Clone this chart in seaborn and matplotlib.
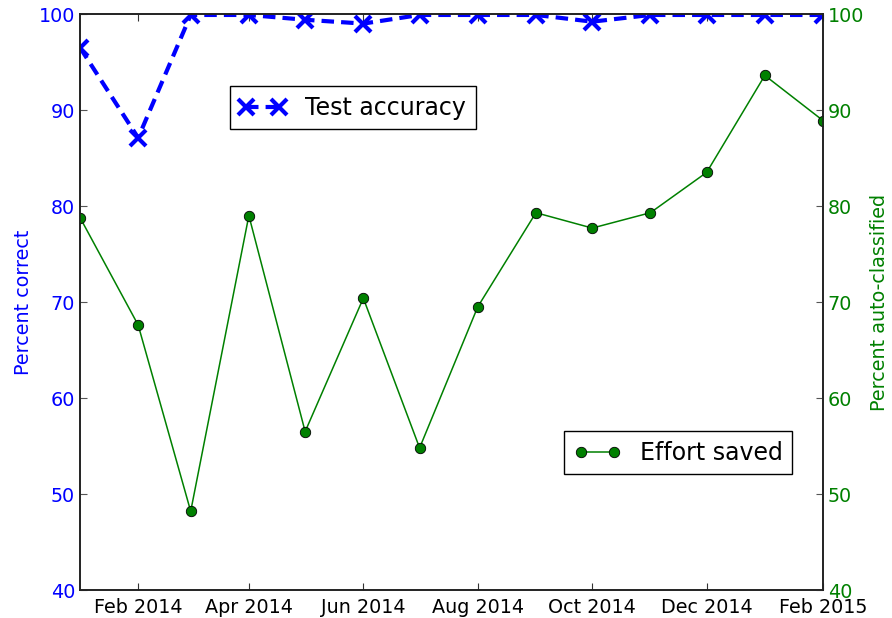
import pandas as pd
import seaborn as sns
import matplotlib
matplotlib.use("Agg")
import matplotlib.pyplot as plt
import matplotlib.dates as mdates

months = ["2014-01-01", "2014-02-01", "2014-03-01", "2014-04-01", "2014-05-01",
          "2014-06-01", "2014-07-01", "2014-08-01", "2014-09-01", "2014-10-01",
          "2014-11-01", "2014-12-01", "2015-01-01", "2015-02-01"]
test_accuracy = [96.5, 87.1, 99.9, 99.9, 99.4, 99.0, 99.9, 99.9, 99.9, 99.2,
                 99.9, 99.9, 99.9, 99.9]
effort_saved = [78.8, 67.6, 48.2, 79.0, 56.5, 70.4, 54.8, 69.5, 79.3, 77.7,
                79.3, 83.5, 93.6, 88.9]

df = pd.DataFrame({
    "month": pd.to_datetime(months),
    "accuracy": test_accuracy,
    "effort": effort_saved,
})

sns.set_theme(style="white")
plt.rcParams["font.family"] = ["DejaVu Sans"]
plt.rcParams["xtick.direction"] = "in"
plt.rcParams["ytick.direction"] = "in"
plt.rcParams["text.color"] = "black"
plt.rcParams["xtick.color"] = "black"
plt.rcParams["ytick.color"] = "black"

fig = plt.figure(figsize=(8.92, 6.18), dpi=100)
ax = fig.add_axes([80 / 892, 1 - 590 / 618, 743 / 892, 576 / 618])
ax2 = ax.twinx()

sns.lineplot(data=df, x="month", y="accuracy", ax=ax, color="blue",
             linestyle=(0, (3, 1.7)), linewidth=3, marker="x",
             markersize=12, markeredgewidth=3, markeredgecolor="blue",
             label="Test accuracy", legend=False)
sns.lineplot(data=df, x="month", y="effort", ax=ax2, color="green",
             linewidth=1.1, marker="o", markersize=7.5,
             markeredgecolor="black", markeredgewidth=0.6,
             label="Effort saved", legend=False)

fs = 13.8
ax.set_ylim(40, 100)
ax2.set_ylim(40, 100)
ax.set_xlim(pd.Timestamp("2014-01-01"), pd.Timestamp("2015-02-01"))
ax.xaxis.set_major_locator(mdates.MonthLocator(bymonth=[2, 4, 6, 8, 10, 12]))
ax.xaxis.set_major_formatter(mdates.DateFormatter("%b %Y"))

ax.set_xlabel("")
ax.set_ylabel("Percent correct", color="blue", fontsize=fs)
ax2.set_ylabel("Percent auto-classified", color="green", fontsize=fs)

ax.tick_params(axis="x", which="both", top=True, bottom=True, length=5,
               width=0.8, color="#333333", labelsize=fs, labelcolor="black",
               pad=6)
ax.tick_params(axis="y", length=5, width=0.8, color="#555555",
               labelsize=fs, labelcolor="blue", left=True, right=False)
ax2.tick_params(axis="y", length=5, width=0.8, color="#555555",
                labelsize=fs, labelcolor="green", right=True, left=False)

for a in (ax, ax2):
    for s in a.spines.values():
        s.set_color("#222222")
        s.set_linewidth(1.2)

leg_kw = dict(fontsize=17, loc="center", frameon=True, fancybox=False,
              framealpha=1, edgecolor="black", numpoints=2, handlelength=2,
              borderpad=0.4, handletextpad=0.8, labelcolor="black")
leg1 = ax.legend(bbox_to_anchor=(0.367, 0.837), **leg_kw)
leg2 = ax2.legend(bbox_to_anchor=(0.805, 0.238), **leg_kw)
for lg in (leg1, leg2):
    lg.get_frame().set_linewidth(1.0)

fig.savefig("out.png", dpi=100)
plt.close(fig)
